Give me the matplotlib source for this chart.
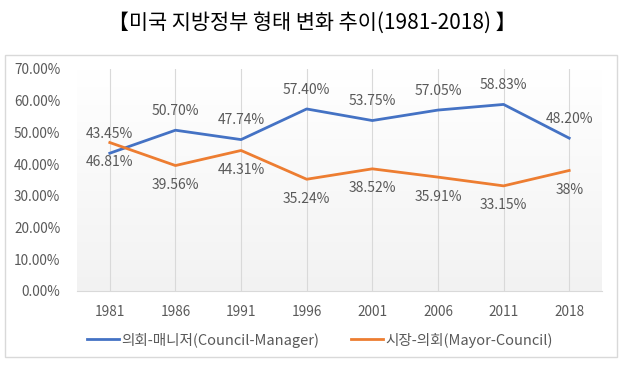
import matplotlib.pyplot as plt
import numpy as np
from matplotlib.patches import Rectangle

plt.rcParams['font.family'] = ['Noto Sans CJK KR', 'DejaVu Sans']

# 데이터
years = ['1981', '1986', '1991', '1996', '2001', '2006', '2011', '2018']
council_manager = [43.45, 50.70, 47.74, 57.40, 53.75, 57.05, 58.83, 48.20]
mayor_council = [46.81, 39.56, 44.31, 35.24, 38.52, 35.91, 33.15, 38.0]
cm_labels = ['43.45%', '50.70%', '47.74%', '57.40%', '53.75%', '57.05%', '58.83%', '48.20%']
mc_labels = ['46.81%', '39.56%', '44.31%', '35.24%', '38.52%', '35.91%', '33.15%', '38%']
y_ticks = [0, 10, 20, 30, 40, 50, 60, 70]

W, H = 625, 368
fig = plt.figure(figsize=(W / 100, H / 100), dpi=100)

# 차트 테두리
fig.patches.append(Rectangle((5 / W, 1 - 357 / H), 612 / W, 302 / H, transform=fig.transFigure,
                             facecolor='white', edgecolor='#d9d9d9', linewidth=1, zorder=-5))

fig.text(0.5, 1 - 23 / H, '【미국 지방정부 형태 변화 추이(1981-2018) 】', ha='center', va='center',
         fontsize=15, color='black')

ax = fig.add_axes([77 / W, 1 - 291 / H, (602 - 77) / W, (291 - 69) / H], zorder=2)
ax.set_facecolor('none')
x = np.arange(len(years))

# 배경 그라데이션 (위: 흰색 -> 아래: 연한 회색)
g = np.linspace(1.0, 0.95, 100)
grad = np.dstack([g, g, g]).reshape(100, 1, 3)
ax.imshow(grad, extent=[-0.5, 7.5, 0, 70], aspect='auto', zorder=0, origin='upper')

ax.plot(x, council_manager, color='#4472C4', linewidth=2.0, zorder=3, label='의회-매니저(Council-Manager)')
ax.plot(x, mayor_council, color='#ED7D31', linewidth=2.0, zorder=3, label='시장-의회(Mayor-Council)')

for i in range(len(years)):
    ax.annotate(cm_labels[i], (x[i], council_manager[i]), xytext=(0, 14), textcoords='offset points',
                ha='center', va='center', fontsize=10, color='#595959')
    ax.annotate(mc_labels[i], (x[i], mayor_council[i]), xytext=(0, -14), textcoords='offset points',
                ha='center', va='center', fontsize=10, color='#595959')

ax.set_xlim(-0.5, 7.5)
ax.set_ylim(0, 70)
ax.set_xticks(x)
ax.set_xticklabels(years)
ax.set_yticks(y_ticks)
ax.set_yticklabels([f'{v:.2f}%' for v in y_ticks])
ax.set_axisbelow(False)
ax.grid(axis='x', color='#d9d9d9', linewidth=0.8)
ax.tick_params(length=0, labelsize=9.8, colors='#595959')
ax.tick_params(axis='y', pad=12)
ax.tick_params(axis='x', pad=10)
for s in ['top', 'right', 'left']:
    ax.spines[s].set_visible(False)
ax.spines['bottom'].set_color('#d9d9d9')

fig.legend(loc='center', bbox_to_anchor=(0.512, 1 - 340 / H), ncol=2, frameon=False, fontsize=10.5,
           handlelength=2.2, columnspacing=2.2, handletextpad=0.15, labelcolor='#595959')

fig.savefig('out.png', dpi=100)
